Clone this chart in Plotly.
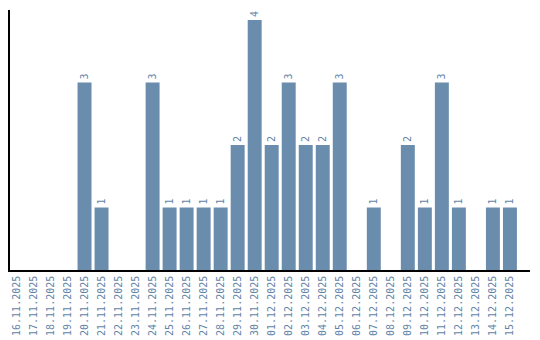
import plotly.graph_objects as go

dates = ["16.11.2025","17.11.2025","18.11.2025","19.11.2025","20.11.2025","21.11.2025",
         "22.11.2025","23.11.2025","24.11.2025","25.11.2025","26.11.2025","27.11.2025",
         "28.11.2025","29.11.2025","30.11.2025","01.12.2025","02.12.2025","03.12.2025",
         "04.12.2025","05.12.2025","06.12.2025","07.12.2025","08.12.2025","09.12.2025",
         "10.12.2025","11.12.2025","12.12.2025","13.12.2025","14.12.2025","15.12.2025"]
counts = [0,0,0,0,3,1,0,0,3,1,1,1,1,2,4,2,3,2,2,3,0,1,0,2,1,3,1,0,1,1]

labels = [str(v) if v > 0 else "" for v in counts]

fig = go.Figure(go.Bar(
    x=list(range(len(dates))), y=counts,
    marker=dict(color="#6A8CAD", line=dict(width=0)),
    text=labels, textposition="outside", textangle=-90,
    textfont=dict(family="DejaVu Sans Mono", size=10, color="#5F84A8"),
    cliponaxis=False,
    width=0.82,
))

fig.update_layout(
    width=540, height=340,
    margin=dict(l=10, r=10, t=10, b=70),
    plot_bgcolor="white", paper_bgcolor="white",
    showlegend=False,
)
fig.update_xaxes(
    range=[-0.38, 30.18], automargin=False,
    tickmode="array", tickvals=list(range(len(dates))), ticktext=dates,
    tickangle=-90, ticks="", showgrid=False, zeroline=False,
    showline=True, linecolor="black", linewidth=1.5,
    tickfont=dict(family="DejaVu Sans Mono", size=10, color="#5F84A8"),
)
fig.update_yaxes(
    range=[0, 4.16], automargin=False, showticklabels=False, ticks="", showgrid=False, zeroline=False,
    showline=True, linecolor="black", linewidth=1.5,
)

fig.write_html("out.html")
